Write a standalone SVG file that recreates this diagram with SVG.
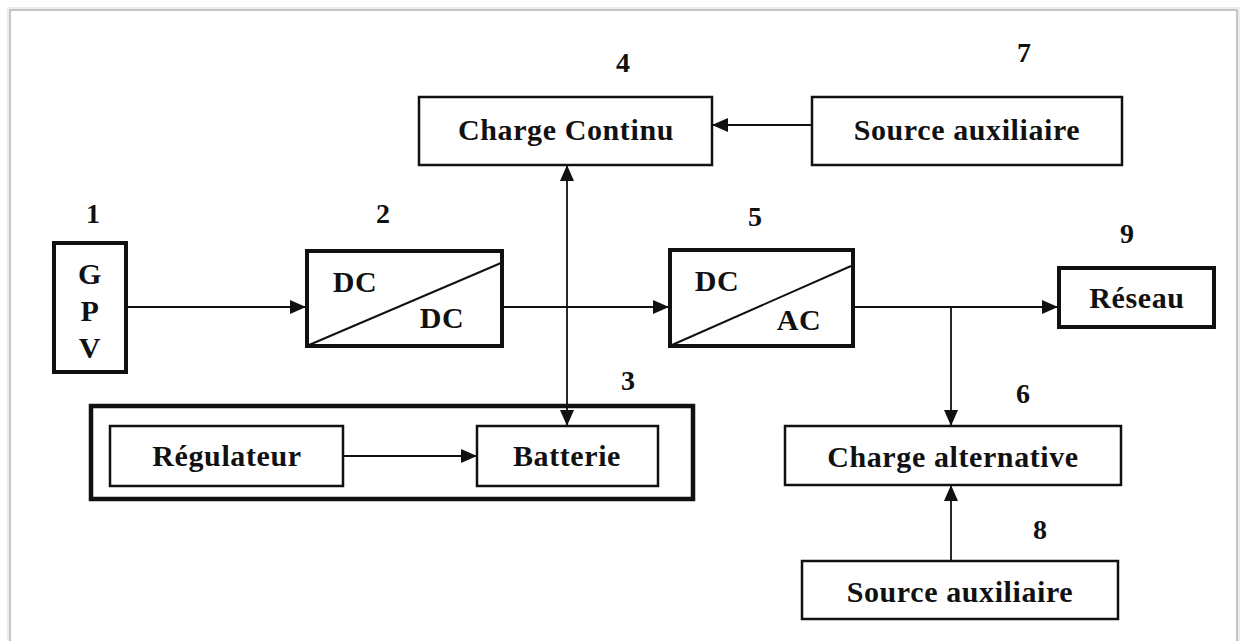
<svg xmlns="http://www.w3.org/2000/svg" width="1243" height="641" viewBox="0 0 1243 641">
<style>
text{font-family:"Liberation Serif","Times New Roman",serif;font-weight:bold;fill:#111;}
.lbl{font-size:30px;letter-spacing:0.6px;text-anchor:middle;}
.num{font-size:28px;text-anchor:middle;}
.box{fill:#fff;stroke:#111;stroke-width:2.5;}
.thick{fill:#fff;stroke:#111;stroke-width:4;}
.group{fill:none;stroke:#111;stroke-width:4.5;}
.conn{fill:none;stroke:#111;stroke-width:1.8;}
</style>
<defs>
<marker id="ah" markerUnits="userSpaceOnUse" markerWidth="16" markerHeight="14" refX="15" refY="7" orient="auto-start-reverse">
<path d="M0,0 L16,7 L0,14 Z" fill="#111"/>
</marker>
</defs>
<rect x="0" y="0" width="1243" height="641" fill="#fff"/>
<g id="frame">
<rect x="9" y="9" width="1229" height="660" fill="#fff" stroke="#ececec" stroke-width="4"/>
<rect x="10" y="10" width="1227" height="660" fill="none" stroke="#b8b8b8" stroke-width="1.5"/>
</g>
<g id="node1">
<text class="num" x="93" y="223">1</text>
<rect class="thick" x="54" y="243" width="72" height="129"/>
<text class="lbl" x="90" y="284">G</text>
<text class="lbl" x="90" y="321">P</text>
<text class="lbl" x="90" y="358">V</text>
</g>
<g id="node2">
<text class="num" x="383" y="223">2</text>
<rect class="thick" x="307" y="251" width="195" height="95"/>
<line x1="309" y1="345" x2="501" y2="263" stroke="#111" stroke-width="2"/>
<text class="lbl" x="355" y="292">DC</text>
<text class="lbl" x="442" y="328">DC</text>
</g>
<g id="node3">
<text class="num" x="628" y="390">3</text>
<rect class="group" x="91" y="406" width="602" height="93"/>
</g>
<g id="node3a">
<rect class="box" x="110" y="426" width="233" height="60"/>
<text class="lbl" x="227" y="466">Régulateur</text>
</g>
<g id="node3b">
<rect class="box" x="477" y="426" width="181" height="60"/>
<text class="lbl" x="567" y="466">Batterie</text>
</g>
<g id="node4">
<text class="num" x="623" y="72">4</text>
<rect class="box" x="419" y="97" width="293" height="68"/>
<text class="lbl" x="566" y="140">Charge Continu</text>
</g>
<g id="node5">
<text class="num" x="755" y="226">5</text>
<rect class="thick" x="670" y="250" width="183" height="96"/>
<line x1="672" y1="345" x2="851" y2="266" stroke="#111" stroke-width="2"/>
<text class="lbl" x="717" y="291">DC</text>
<text class="lbl" x="799" y="330">AC</text>
</g>
<g id="node6">
<text class="num" x="1023" y="403">6</text>
<rect class="box" x="785" y="426" width="336" height="59"/>
<text class="lbl" x="953" y="467">Charge alternative</text>
</g>
<g id="node7">
<text class="num" x="1024" y="62">7</text>
<rect class="box" x="812" y="97" width="310" height="68"/>
<text class="lbl" x="967" y="140">Source auxiliaire</text>
</g>
<g id="node8">
<text class="num" x="1040" y="539">8</text>
<rect class="box" x="802" y="561" width="316" height="58"/>
<text class="lbl" x="960" y="602">Source auxiliaire</text>
</g>
<g id="node9">
<text class="num" x="1127" y="243">9</text>
<rect class="thick" x="1059" y="268" width="155" height="59"/>
<text class="lbl" x="1137" y="308">Réseau</text>
</g>
<g id="connectors">
<line class="conn" x1="128" y1="307" x2="305" y2="307" marker-end="url(#ah)"/>
<line class="conn" x1="504" y1="307" x2="668" y2="307" marker-end="url(#ah)"/>
<line class="conn" x1="855" y1="307" x2="1057" y2="307" marker-end="url(#ah)"/>
<line class="conn" x1="951" y1="307" x2="951" y2="425" marker-end="url(#ah)"/>
<line class="conn" x1="951" y1="560" x2="951" y2="486" marker-end="url(#ah)"/>
<line class="conn" x1="811" y1="125" x2="713" y2="125" marker-end="url(#ah)"/>
<line class="conn" x1="567" y1="166" x2="567" y2="425" marker-start="url(#ah)" marker-end="url(#ah)"/>
<line class="conn" x1="344" y1="456" x2="476" y2="456" marker-end="url(#ah)"/>
</g>
</svg>
